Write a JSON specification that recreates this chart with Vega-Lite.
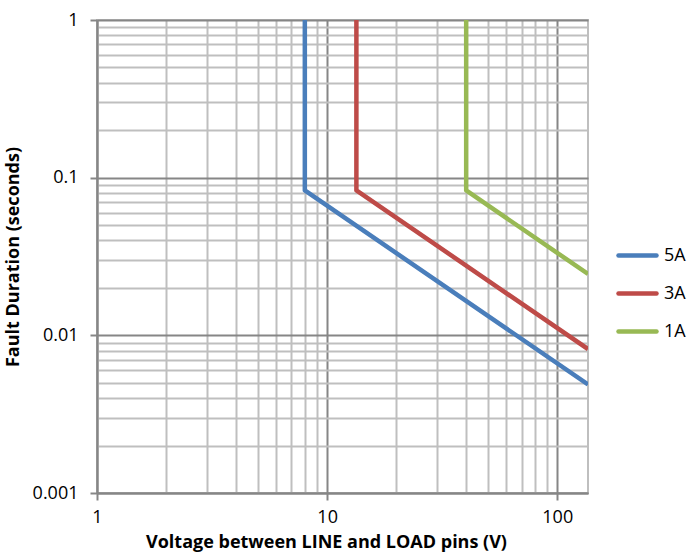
{
  "$schema": "https://vega.github.io/schema/vega-lite/v6.json",
  "width": 491,
  "height": 473,
  "autosize": {"type": "none"},
  "padding": {"left": 97, "top": 20, "right": 100, "bottom": 61},
  "background": "white",
  "config": {"view": {"stroke": "#bfbfbf", "strokeWidth": 2}, "font": "Open Sans"},
  "data": {"values": [
    {"V": 8, "t": 1, "s": "5A", "o": 0},
    {"V": 8, "t": 0.083, "s": "5A", "o": 1},
    {"V": 136, "t": 0.00488, "s": "5A", "o": 2},
    {"V": 13.4, "t": 1, "s": "3A", "o": 0},
    {"V": 13.4, "t": 0.083, "s": "3A", "o": 1},
    {"V": 136, "t": 0.00818, "s": "3A", "o": 2},
    {"V": 40.2, "t": 1, "s": "1A", "o": 0},
    {"V": 40.2, "t": 0.083, "s": "1A", "o": 1},
    {"V": 136, "t": 0.0245, "s": "1A", "o": 2}
  ]},
  "mark": {"type": "line", "strokeWidth": 4.5, "strokeJoin": "round", "clip": true},
  "encoding": {
    "x": {
      "field": "V", "type": "quantitative",
      "scale": {"type": "log", "domain": [1, 136], "nice": false},
      "axis": {
        "values": [1, 2, 3, 4, 5, 6, 7, 8, 9, 10, 20, 30, 40, 50, 60, 70, 80, 90, 100],
        "format": "~g",
        "labelExpr": "indexof([1,10,100], datum.value) >= 0 ? datum.label : ''",
        "grid": true,
        "gridColor": {"condition": {"test": "indexof([1,10,100], datum.value) >= 0", "value": "#868686"}, "value": "#bfbfbf"},
        "gridWidth": 2,
        "gridOpacity": 1,
        "tickColor": {"condition": {"test": "indexof([1,10,100], datum.value) >= 0", "value": "#868686"}, "value": "transparent"},
        "tickSize": 7,
        "tickWidth": 2,
        "domainColor": "#868686",
        "domainWidth": 2,
        "labelFontSize": 18,
        "labelColor": "#000000",
        "labelPadding": 8,
        "labelFlush": false,
        "labelOverlap": false,
        "title": "Voltage between LINE and LOAD pins (V)",
        "titleFontSize": 18,
        "titleFontWeight": "bold",
        "titleColor": "#000000",
        "titleBaseline": "top",
        "titleY": 40,
        "titleX": 229
      }
    },
    "y": {
      "field": "t", "type": "quantitative",
      "scale": {"type": "log", "domain": [0.001, 1], "nice": false},
      "axis": {
        "values": [0.001, 0.002, 0.003, 0.004, 0.005, 0.006, 0.007, 0.008, 0.009, 0.01, 0.02, 0.03, 0.04, 0.05, 0.06, 0.07, 0.08, 0.09, 0.1, 0.2, 0.3, 0.4, 0.5, 0.6, 0.7, 0.8, 0.9, 1],
        "format": "~g",
        "labelExpr": "indexof([0.001,0.01,0.1,1], datum.value) >= 0 ? datum.label : ''",
        "grid": true,
        "gridColor": {"condition": {"test": "indexof([0.001,0.01,0.1,1], datum.value) >= 0", "value": "#868686"}, "value": "#bfbfbf"},
        "gridWidth": 2,
        "gridOpacity": 1,
        "tickColor": {"condition": {"test": "indexof([0.001,0.01,0.1,1], datum.value) >= 0", "value": "#868686"}, "value": "transparent"},
        "tickSize": 7,
        "tickWidth": 2,
        "domainColor": "#868686",
        "domainWidth": 2,
        "labelFontSize": 18,
        "labelColor": "#000000",
        "labelPadding": 12,
        "labelFlush": false,
        "labelOverlap": false,
        "title": "Fault Duration (seconds)",
        "titleFontSize": 18,
        "titleFontWeight": "bold",
        "titleColor": "#000000",
        "titleBaseline": "bottom",
        "titleX": -75
      }
    },
    "color": {
      "field": "s", "type": "nominal",
      "scale": {"domain": ["5A", "3A", "1A"], "range": ["#4a7ebb", "#be4b48", "#98b954"]},
      "legend": {
        "title": null,
        "orient": "none",
        "legendX": 519,
        "legendY": 214,
        "padding": 0,
        "symbolType": "stroke",
        "symbolSize": 1444,
        "symbolStrokeWidth": 4.5,
        "rowPadding": 7,
        "labelFontSize": 18,
        "labelColor": "#000000",
        "labelOffset": 5,
        "encode": {"symbols": {"update": {"strokeCap": {"value": "round"}}}}
      }
    },
    "order": {"field": "o", "type": "quantitative"}
  }
}
